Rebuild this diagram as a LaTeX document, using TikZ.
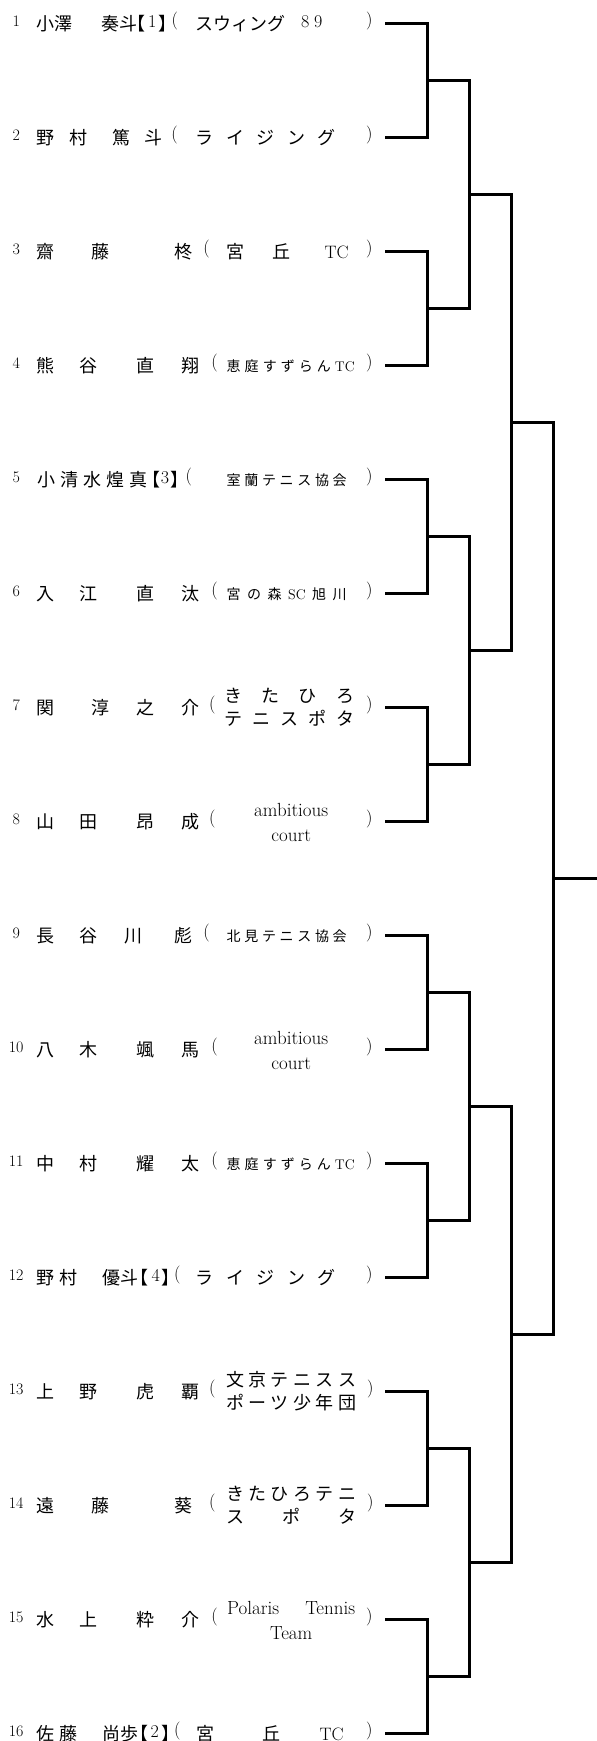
\documentclass[tikz,border=0pt]{standalone}
\usepackage{fontspec}
\newfontfamily\jp{Noto Sans CJK JP}
\usepackage{tikz}

\newcommand\putat[3][0]{\rlap{\hspace*{#2pt}\raisebox{#1pt}{#3}}\ignorespaces}
\newcommand\lat[1]{{\rmfamily #1}}
\newcommand\en[1]{{\rmfamily\fontsize{19}{22}\selectfont #1}}
\newcommand\dig[1]{\raisebox{2.7pt}{\rmfamily\fontsize{18}{21}\selectfont #1}}
\newcommand\nr[1]{\putat[4]{16}{\makebox[0pt]{\rmfamily\fontsize{16}{19}\selectfont #1}}}
\newcommand\hw[1]{{\addfontfeature{RawFeature=+halt}#1}}
\newcommand\opn[1]{\putat[4.8]{#1}{\lat{(}}}
\newcommand\cls[1]{\putat[4.8]{#1}{\lat{)}}}
\newcommand\smjp{\fontsize{14}{16}\selectfont}
\newcommand\rowbox[1]{\makebox[385pt][l]{#1}}
\makeatletter
\newcommand\spread[2]{\makebox[#1pt][s]{\let\sp@first\relax
  \@tfor\sp@item:=#2\do{\ifx\sp@first\relax\let\sp@first\@empty\else\hfill\fi\sp@item}}}
\makeatother

\begin{document}
\begin{tikzpicture}[x=1pt,y=-1pt,
  entry/.style={anchor=west,inner sep=0pt,text height=20pt,text depth=6pt,
    font=\jp\fontsize{18}{22}\selectfont},
  tie/.style={line width=3pt}]

  \useasboundingbox (0,0) rectangle (597,1741);

  % players
  \node[entry] (p1) at (0,23.5) {\rowbox{\nr{1}\putat{36.5}{小澤}\putat{101.5}{奏斗}\putat{136.5}{\hw{【}}\putat{148}{\dig{1}}\putat{158.5}{\hw{】}}\opn{171.5}\putat{195.5}{スウィング}\putat{301}{\dig{8}}\putat{314}{\dig{9}}\cls{366}}};
  \node[entry] (p2) at (0,137.5) {\rowbox{\nr{2}\putat{36.5}{野}\putat{69}{村}\putat{112}{篤}\putat{144}{斗}\opn{171.2}\putat{195.5}{\spread{140}{ライジング}}\cls{366}}};
  \node[entry] (p3) at (0,251.5) {\rowbox{\nr{3}\putat{36.5}{齋}\putat{91}{藤}\putat{174}{柊}\opn{203.2}\putat{226}{宮}\putat{272}{丘}\putat{324.5}{\lat{TC}}\cls{366}}};
  \node[entry] (p4) at (0,365.5) {\rowbox{\nr{4}\putat{36.5}{熊}\putat{79}{谷}\putat{136}{直}\putat{181}{翔}\opn{211.2}\putat[1.4]{226.5}{\smjp\spread{128}{恵庭すずらん{\lat{TC}}}}\cls{366}}};
  \node[entry] (p5) at (0,479.5) {\rowbox{\nr{5}\putat{37.5}{\spread{110}{小清水煌真}}\putat{151.5}{\hw{【}}\putat{160.7}{\dig{3}}\putat{170.5}{\hw{】}}\opn{185.5}\putat[1.4]{226.5}{\smjp\spread{120}{室蘭テニス協会}}\cls{366}}};
  \node[entry] (p6) at (0,593.5) {\rowbox{\nr{6}\putat{36.5}{入}\putat{79}{江}\putat{136}{直}\putat{181}{汰}\opn{211.2}\putat[1.4]{226.5}{\smjp\spread{120}{宮の森{\lat{SC}}旭川}}\cls{366}}};
  \node[entry] (p7) at (0,707.5) {\rowbox{\nr{7}\putat{36.5}{関}\putat{91}{淳}\putat{136}{之}\putat{181}{介}\opn{209}\putat[12.5]{224}{\spread{130}{きたひろ}}\putat[-11]{224}{\spread{130}{テニスポタ}}\cls{366}}};
  \node[entry] (p8) at (0,821.5) {\rowbox{\nr{8}\putat{36.5}{山}\putat{79}{田}\putat{136}{昂}\putat{181}{成}\opn{209}\putat[12]{227}{\makebox[128pt]{\en{ambitious}}}\putat[-13]{227}{\makebox[128pt]{\en{court}}}\cls{366}}};
  \node[entry] (p9) at (0,935.5) {\rowbox{\nr{9}\putat{36.5}{長}\putat{79}{谷}\putat{124}{川}\putat{174}{彪}\opn{203.2}\putat[1.4]{226.5}{\smjp\spread{120}{北見テニス協会}}\cls{366}}};
  \node[entry] (p10) at (0,1049.5) {\rowbox{\nr{10}\putat{36.5}{八}\putat{79}{木}\putat{136}{颯}\putat{181}{馬}\opn{211.2}\putat[12]{227}{\makebox[128pt]{\en{ambitious}}}\putat[-13]{227}{\makebox[128pt]{\en{court}}}\cls{366}}};
  \node[entry] (p11) at (0,1163.5) {\rowbox{\nr{11}\putat{36.5}{中}\putat{79}{村}\putat{136}{耀}\putat{181}{太}\opn{211.2}\putat[1.4]{226.5}{\smjp\spread{128}{恵庭すずらん{\lat{TC}}}}\cls{366}}};
  \node[entry] (p12) at (0,1277.5) {\rowbox{\nr{12}\putat{36.5}{\spread{41}{野村}}\putat{102}{優斗}\putat{139}{\hw{【}}\putat{151.5}{\dig{4}}\putat{161.5}{\hw{】}}\opn{174}\putat{195.5}{\spread{140}{ライジング}}\cls{366}}};
  \node[entry] (p13) at (0,1391.5) {\rowbox{\nr{13}\putat{36.5}{上}\putat{79}{野}\putat{136}{虎}\putat{181}{覇}\opn{209}\putat[12.5]{226}{\spread{130}{文京テニスス}}\putat[-11]{226}{\spread{130}{ポーツ少年団}}\cls{367}}};
  \node[entry] (p14) at (0,1505.5) {\rowbox{\nr{14}\putat{36.5}{遠}\putat{91}{藤}\putat{174}{葵}\opn{209}\putat[12.5]{226}{\spread{130}{きたひろテニ}}\putat[-11]{226}{\spread{130}{ス　ポ　タ}}\cls{367}}};
  \node[entry] (p15) at (0,1619.5) {\rowbox{\nr{15}\putat{36.5}{水}\putat{79}{上}\putat{136}{粋}\putat{181}{介}\opn{211.2}\putat[12]{227}{\makebox[128pt][s]{\en{Polaris\hfill Tennis}}}\putat[-13]{227}{\makebox[128pt]{\en{Team}}}\cls{366}}};
  \node[entry] (p16) at (0,1733.5) {\rowbox{\nr{16}\putat{36.5}{\spread{41}{佐藤}}\putat{102}{尚歩}\putat{139}{\hw{【}}\putat{150.5}{\dig{2}}\putat{161.5}{\hw{】}}\opn{174}\putat{196}{宮}\putat{262}{丘}\putat{319.5}{\lat{TC}}\cls{366}}};

  % junctions
  \coordinate (m1) at (427,80.5);
  \coordinate (m2) at (427,308.5);
  \coordinate (m3) at (427,536.5);
  \coordinate (m4) at (427,764.5);
  \coordinate (m5) at (427,992.5);
  \coordinate (m6) at (427,1220.5);
  \coordinate (m7) at (427,1448.5);
  \coordinate (m8) at (427,1676.5);
  \coordinate (q1) at (469,194.5);
  \coordinate (q2) at (469,650.5);
  \coordinate (q3) at (469,1106.5);
  \coordinate (q4) at (469,1562.5);
  \coordinate (s1) at (511.5,422.5);
  \coordinate (s2) at (511.5,1334.5);
  \coordinate (f) at (553.5,878.5);
  \coordinate (champ) at (597,878.5);

  % bracket
  \draw[tie] (p1.east) -| (m1) |- (p2.east);
  \draw[tie] (p3.east) -| (m2) |- (p4.east);
  \draw[tie] (p5.east) -| (m3) |- (p6.east);
  \draw[tie] (p7.east) -| (m4) |- (p8.east);
  \draw[tie] (p9.east) -| (m5) |- (p10.east);
  \draw[tie] (p11.east) -| (m6) |- (p12.east);
  \draw[tie] (p13.east) -| (m7) |- (p14.east);
  \draw[tie] (p15.east) -| (m8) |- (p16.east);
  \draw[tie] (m1) -| (q1) |- (m2);
  \draw[tie] (m3) -| (q2) |- (m4);
  \draw[tie] (m5) -| (q3) |- (m6);
  \draw[tie] (m7) -| (q4) |- (m8);
  \draw[tie] (q1) -| (s1) |- (q2);
  \draw[tie] (q3) -| (s2) |- (q4);
  \draw[tie] (s1) -| (f) |- (s2);
  \draw[tie] (f) -- (champ);
\end{tikzpicture}
\end{document}
